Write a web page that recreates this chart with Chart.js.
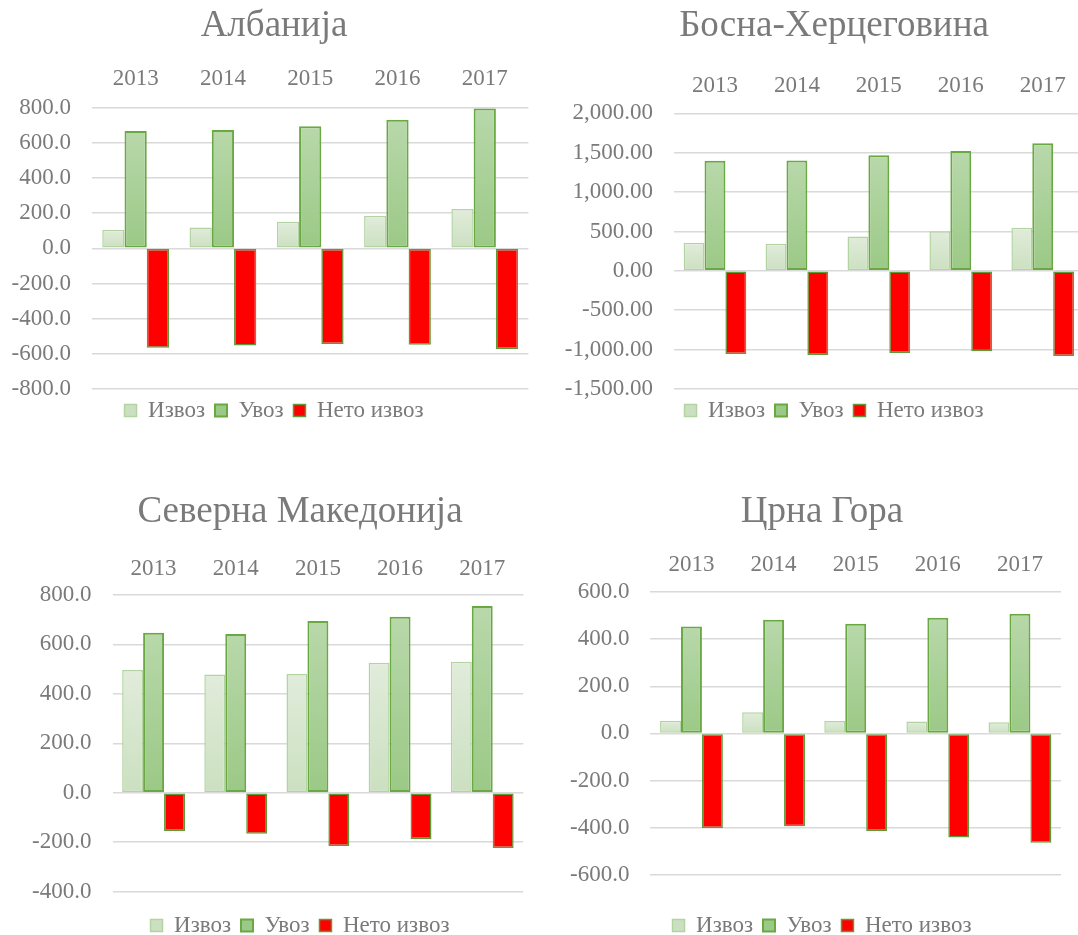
<!DOCTYPE html>
<html>
<head>
<meta charset="utf-8">
<script src="https://cdn.jsdelivr.net/npm/chart.js@4.4.1/dist/chart.umd.min.js"></script>
<style>
  html, body { margin: 0; padding: 0; background: #fff; }
  body { width: 1078px; height: 935px; overflow: hidden; position: relative; }
  .box { position: absolute; }
</style>
</head>
<body>
<div class="box" id="b0"><canvas id="c0"></canvas></div>
<div class="box" id="b1"><canvas id="c1"></canvas></div>
<div class="box" id="b2"><canvas id="c2"></canvas></div>
<div class="box" id="b3"><canvas id="c3"></canvas></div>
<script>
// data
const years = ['2013', '2014', '2015', '2016', '2017'];
const seriesNames = ['Извоз', 'Увоз', 'Нето извоз'];
const titles = ['Албанија', 'Босна-Херцеговина', 'Северна Македонија', 'Црна Гора'];

const albaniaExport = [106, 119, 152, 186, 224];
const albaniaImport = [667, 673, 694, 732, 796];
const albaniaNet = [-565, -552, -544, -548, -573];

const bosniaExport = [356, 343, 436, 504, 547];
const bosniaImport = [1398, 1402, 1466, 1521, 1619];
const bosniaNet = [-1055, -1068, -1042, -1021, -1080];

const macedoniaExport = [496, 478, 480, 526, 530];
const macedoniaImport = [647, 642, 695, 712, 755];
const macedoniaNet = [-155, -166, -216, -188, -224];

const montenegroExport = [54, 90, 53, 50, 47];
const montenegroImport = [454, 482, 465, 491, 508];
const montenegroNet = [-401, -394, -414, -442, -464];

// y axis ticks
const yMin = [-800, -1500, -400, -600];
const yMax = [800, 2000, 800, 600];
const yStep = [200, 500, 200, 200];
const yDecimals = [1, 2, 1, 1];

// where each chart sits on the page (yW / y2W: space left / right of the plot)
const frames = [
  { left: 0,   top: 0,   width: 548, height: 432, yW: 92,    y2W: 19.6, xH: 58.9, xPad: 15,   titleTop: 4.4,  legendGap: 0 },
  { left: 545, top: 0,   width: 578, height: 432, yW: 129,   y2W: 39.3, xH: 64.5, xPad: 13.5, titleTop: 4.4,  legendGap: 0 },
  { left: 0,   top: 470, width: 600, height: 477, yW: 112.5, y2W: 76.7, xH: 60.7, xPad: 12,   titleTop: 19.9, legendGap: 11.3 },
  { left: 540, top: 470, width: 564, height: 477, yW: 110.4, y2W: 43,   xH: 57.7, xPad: 13,   titleTop: 19.9, legendGap: 28 }
];

const textGray = '#7a7a7a';
const serif = "'Liberation Serif', 'Times New Roman', serif";

function barFill(topColor, bottomColor, flat) {
  return (c) => {
    if (c.type !== 'data' || !c.chart.chartArea) return flat;
    const y = c.chart.scales.y;
    const p0 = y.getPixelForValue(0);
    const p1 = y.getPixelForValue(c.raw);
    const g = c.chart.ctx.createLinearGradient(0, Math.min(p0, p1), 0, Math.max(p0, p1));
    g.addColorStop(0, topColor);
    g.addColorStop(1, bottomColor);
    return g;
  };
}

function makeChart(i, exp, imp, net) {
  const f = frames[i];
  const box = document.getElementById('b' + i);
  box.style.left = f.left + 'px';
  box.style.top = f.top + 'px';
  box.style.width = f.width + 'px';
  box.style.height = f.height + 'px';

  return new Chart(document.getElementById('c' + i), {
    type: 'bar',
    data: {
      labels: years,
      datasets: [{
        label: seriesNames[0],
        data: exp,
        backgroundColor: barFill('#e1ecdb', '#cbe0c0', '#d5e6cd'),
        borderColor: '#b3d4a2',
        borderWidth: 1.5
      }, {
        label: seriesNames[1],
        data: imp,
        backgroundColor: barFill('#b8d8aa', '#9bc986', '#a9d098'),
        borderColor: '#6aa843',
        borderWidth: 2
      }, {
        label: seriesNames[2],
        data: net,
        backgroundColor: '#ff0000',
        borderColor: '#5f9a3a',
        borderWidth: 1.5
      }]
    },
    options: {
      responsive: true,
      maintainAspectRatio: false,
      animation: false,
      layout: { padding: 0 },
      datasets: {
        bar: {
          barPercentage: 1,
          categoryPercentage: 0.765,
          borderSkipped: false
        }
      },
      scales: {
        x: {
          position: 'top',
          grid: { display: false, drawTicks: false },
          border: { display: false },
          ticks: {
            color: textGray,
            padding: f.xPad,
            font: { family: serif, size: 23 }
          },
          afterFit: (s) => { s.height = f.xH; }
        },
        y: {
          min: yMin[i],
          max: yMax[i],
          grid: { color: '#d9d9d9', lineWidth: 1.5, drawTicks: false },
          border: { display: false },
          ticks: {
            stepSize: yStep[i],
            color: textGray,
            padding: 21,
            font: { family: serif, size: 23 },
            callback: (v) => Number(v).toLocaleString('en-US', {
              minimumFractionDigits: yDecimals[i],
              maximumFractionDigits: yDecimals[i]
            })
          },
          afterFit: (s) => { s.width = f.yW; }
        },
        // empty axis on the right, only keeps the plot off the canvas edge
        y2: {
          type: 'linear',
          position: 'right',
          display: true,
          grid: { display: false, drawTicks: false },
          border: { display: false },
          ticks: { display: false },
          afterFit: (s) => { s.width = f.y2W; }
        }
      },
      plugins: {
        title: {
          display: true,
          text: titles[i],
          color: textGray,
          font: { family: serif, size: 37, weight: 'normal' },
          padding: { top: f.titleTop, bottom: 0 }
        },
        legend: {
          position: 'bottom',
          title: {
            display: f.legendGap > 0,
            text: '',
            font: { size: 1 },
            padding: { top: f.legendGap, bottom: 0 }
          },
          labels: {
            color: textGray,
            boxWidth: 12,
            boxHeight: 12,
            padding: 10,
            font: { family: serif, size: 23 }
          }
        },
        tooltip: { enabled: false }
      }
    }
  });
}

makeChart(0, albaniaExport, albaniaImport, albaniaNet);
makeChart(1, bosniaExport, bosniaImport, bosniaNet);
makeChart(2, macedoniaExport, macedoniaImport, macedoniaNet);
makeChart(3, montenegroExport, montenegroImport, montenegroNet);
</script>
</body>
</html>
